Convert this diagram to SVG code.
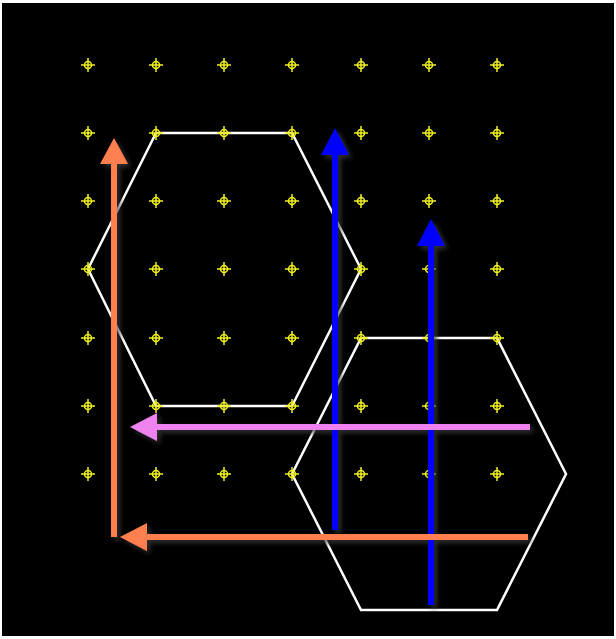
<svg xmlns="http://www.w3.org/2000/svg" width="616" height="639" viewBox="0 0 616 639">
<defs>
<style>
.hex{fill:none;stroke:#ffffff;stroke-width:2.5}
.mk circle{fill:none;stroke:#f0f01e;stroke-width:1.5}
.mk path{stroke:#f0f01e;stroke-width:1.5}
</style>
<filter id="sh" x="-50%" y="-10%" width="200%" height="120%">
<feGaussianBlur in="SourceAlpha" stdDeviation="2.5"/>
<feOffset dx="3" dy="3" result="b"/>
<feFlood flood-color="#3a3a3a" flood-opacity="0.8"/>
<feComposite in2="b" operator="in"/>
<feMerge><feMergeNode/><feMergeNode in="SourceGraphic"/></feMerge>
</filter>
<g id="m" class="mk"><circle r="3.5"/><path d="M-7 0H7M0 -7V7"/></g>
</defs>
<rect width="616" height="639" fill="#ffffff"/>
<rect x="2" y="3" width="612" height="633" fill="#000000"/>
<g id="hex1"><polygon class="hex" points="156,133 292,133 361,269 292,406 156,406 88,269"/></g>
<g id="hex2"><polygon class="hex" points="361,338 497,338 566,474 497,610 361,610 292,474"/></g>
<g id="grid">
<use href="#m" x="88" y="65"/><use href="#m" x="156" y="65"/><use href="#m" x="224" y="65"/><use href="#m" x="292" y="65"/><use href="#m" x="361" y="65"/><use href="#m" x="429" y="65"/><use href="#m" x="497" y="65"/>
<use href="#m" x="88" y="133"/><use href="#m" x="156" y="133"/><use href="#m" x="224" y="133"/><use href="#m" x="292" y="133"/><use href="#m" x="361" y="133"/><use href="#m" x="429" y="133"/><use href="#m" x="497" y="133"/>
<use href="#m" x="88" y="201"/><use href="#m" x="156" y="201"/><use href="#m" x="224" y="201"/><use href="#m" x="292" y="201"/><use href="#m" x="361" y="201"/><use href="#m" x="429" y="201"/><use href="#m" x="497" y="201"/>
<use href="#m" x="88" y="269"/><use href="#m" x="156" y="269"/><use href="#m" x="224" y="269"/><use href="#m" x="292" y="269"/><use href="#m" x="361" y="269"/><use href="#m" x="429" y="269"/><use href="#m" x="497" y="269"/>
<use href="#m" x="88" y="338"/><use href="#m" x="156" y="338"/><use href="#m" x="224" y="338"/><use href="#m" x="292" y="338"/><use href="#m" x="361" y="338"/><use href="#m" x="429" y="338"/><use href="#m" x="497" y="338"/>
<use href="#m" x="88" y="406"/><use href="#m" x="156" y="406"/><use href="#m" x="224" y="406"/><use href="#m" x="292" y="406"/><use href="#m" x="361" y="406"/><use href="#m" x="429" y="406"/><use href="#m" x="497" y="406"/>
<use href="#m" x="88" y="474"/><use href="#m" x="156" y="474"/><use href="#m" x="224" y="474"/><use href="#m" x="292" y="474"/><use href="#m" x="361" y="474"/><use href="#m" x="429" y="474"/><use href="#m" x="497" y="474"/>
</g>
<g id="connectors" filter="url(#sh)">
<g id="orangeV"><path d="M114 537V160" stroke="#ff7f50" stroke-width="6"/><polygon points="114,138 100,164 128,164" fill="#ff7f50"/></g>
<g id="blue1"><path d="M335 530V150" stroke="#0000ff" stroke-width="6"/><polygon points="335,128 321,155 349,155" fill="#0000ff"/></g>
<g id="blue2"><path d="M431 605V240" stroke="#0000ff" stroke-width="6"/><polygon points="431,219 417,246 445,246" fill="#0000ff"/></g>
<g id="pink"><path d="M530 427H150" stroke="#ee82ee" stroke-width="6"/><polygon points="130,427 157,413 157,441" fill="#ee82ee"/></g>
<g id="orangeH"><path d="M528 537H140" stroke="#ff7f50" stroke-width="6"/><polygon points="120,537 147,523 147,551" fill="#ff7f50"/></g>
</g>
</svg>
